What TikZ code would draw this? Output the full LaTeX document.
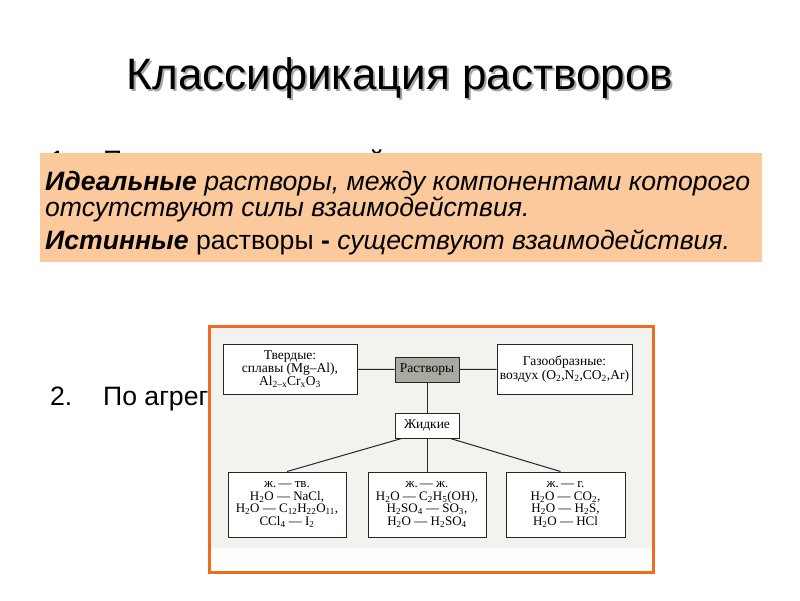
\documentclass[tikz,border=0pt]{standalone}
\usepackage{fontspec}
\setmainfont{Liberation Sans}
\newfontfamily\bookfont{Liberation Serif}
\usetikzlibrary{positioning}

\definecolor{peach}{RGB}{251,201,156}
\definecolor{frameorange}{RGB}{240,108,28}
\definecolor{paper}{RGB}{244,242,238}
\definecolor{rootgrey}{RGB}{168,170,160}
\newcommand{\sub}[1]{\textsubscript{#1}}

\begin{document}
\begin{tikzpicture}[x=1pt, y=-1pt,
    % Define the styles of the slide
    slidetext/.style={anchor=base west, inner sep=0pt, font=\fontsize{26.6}{25.5}\selectfont},
    % Define the style for the boxes of the scheme
    box/.style={draw=black!85, line width=1pt, fill=white, align=center, inner sep=0pt,
        font=\bookfont\fontsize{13.5}{13.3}\selectfont},
    smallbox/.style={box, minimum width=118pt, minimum height=65pt,
        font=\bookfont\fontsize{13}{12.7}\selectfont},
    link/.style={draw=black!85, line width=1pt}
]
\useasboundingbox (0,0) rectangle (800,600);
\fill[white] (0,0) rectangle (800,600);

% Title with its shadow
\node[font=\fontsize{44}{48}\selectfont, text=black!35] (titleshadow) at (402,80) {Классификация растворов};
\node[font=\fontsize{44}{48}\selectfont] (title) at (400,78) {Классификация растворов};

% Bullets, partly hidden
\node[slidetext] (one) at (50,169) {1.};
\node[slidetext] (onetext) at (103,169) {По степени идеальной};
\node[slidetext] (two) at (50,405) {2.};
\node[slidetext] (twotext) at (103,405) {По агрегатному};

% Peach definition box
\fill[peach] (40,153) rectangle (762,262);
\node[slidetext, align=left] (ideal) at (45,216)
    {\textbf{\textit{Идеальные}} \textit{растворы, между компонентами которого}\\
     \textit{отсутствуют силы взаимодействия.}};
\node[slidetext] (real) at (45,249)
    {\textbf{\textit{Истинные}} растворы \textbf{-} \textit{существуют взаимодействия.}};

% The picture in its orange frame
\draw[frameorange, line width=3pt, fill=paper] (209.5,326.5) rectangle (653.5,572);
\fill[white!96!paper] (211,548) rectangle (652,570.5);

% Boxes of the scheme
\node[box, minimum width=134pt, minimum height=50pt] (solid) at (290,369)
    {Твердые:\\ сплавы (Mg–Al),\\ Al\sub{2–x}Cr\sub{x}O\sub{3}};
\node[box, fill=rootgrey, minimum width=64pt, minimum height=25pt] (root) at (427,369.5) {Растворы};
\node[box, minimum width=135pt, minimum height=50pt] (gas) at (564.5,369)
    {Газообразные:\\ воздух (O\sub{2},N\sub{2},CO\sub{2},Ar)};
\node[box, minimum width=64pt, minimum height=25pt] (liquid) at (427,425.5) {Жидкие};
\node[smallbox] (ls) at (287,504.5)
    {ж.\,— тв.\\ H\sub{2}O — NaCl,\\ H\sub{2}O — C\sub{12}H\sub{22}O\sub{11},\\ CCl\sub{4} — I\sub{2}};
\node[smallbox] (ll) at (427,504.5)
    {ж.\,— ж.\\ H\sub{2}O — C\sub{2}H\sub{5}(OH),\\ H\sub{2}SO\sub{4} — SO\sub{3},\\ H\sub{2}O — H\sub{2}SO\sub{4}};
\node[smallbox, minimum width=119pt] (lg) at (565.5,504.5)
    {ж.\,— г.\\ H\sub{2}O — CO\sub{2},\\ H\sub{2}O — H\sub{2}S,\\ H\sub{2}O — HCl};

% Connectors
\draw[link] (solid) -- (root);
\draw[link] (root) -- (gas);
\draw[link] (root) -- (liquid);
\draw[link] ([xshift=7pt]liquid.south west) -- (ls.north);
\draw[link] (liquid) -- (ll);
\draw[link] ([xshift=-9pt]liquid.south east) -- ([xshift=-5pt]lg.north);

\end{tikzpicture}
\end{document}
